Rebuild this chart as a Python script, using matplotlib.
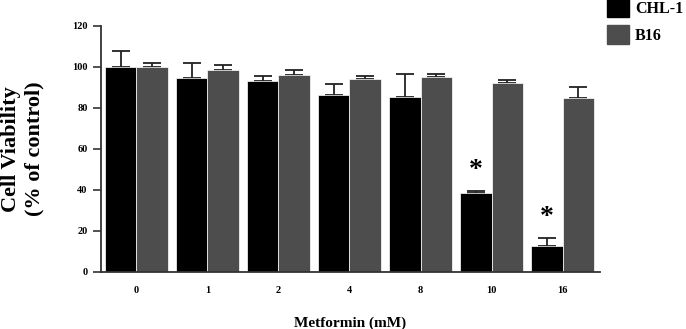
import numpy as np
import matplotlib
matplotlib.use("Agg")
import matplotlib.pyplot as plt
from matplotlib.patches import Patch

doses = ["0", "1", "2", "4", "8", "10", "16"]
chl1 = [100.0, 94.5, 93.0, 86.5, 85.5, 38.6, 12.7]
chl1_err = [7.6, 7.5, 2.8, 5.0, 11.3, 0.6, 4.0]
b16 = [100.0, 98.5, 96.0, 94.3, 95.3, 92.2, 84.7]
b16_err = [2.0, 2.5, 2.5, 1.5, 1.5, 1.6, 5.7]
star_groups = [5, 6]
star_values = [49.5, 26.5]

plt.rcParams["font.family"] = ["Liberation Serif", "DejaVu Serif"]
plt.rcParams["font.weight"] = "bold"

fig = plt.figure(figsize=(6.86, 3.29), dpi=100)
ax = fig.add_axes([0.147, 0.174, 0.728, 0.747])

x = np.arange(len(doses))
w = 0.44
ax.bar(x - w / 2, chl1, w, color="black", edgecolor="white", linewidth=0.5, zorder=2)
ax.bar(x + w / 2, b16, w, color="#4d4d4d", edgecolor="white", linewidth=0.5, zorder=2)
ax.errorbar(x - w / 2, chl1, yerr=[np.zeros(len(chl1)), chl1_err], fmt="none",
            ecolor="#222222", elinewidth=1.3, capsize=6.5, capthick=1.3, zorder=1)
ax.errorbar(x + w / 2, b16, yerr=[np.zeros(len(b16)), b16_err], fmt="none",
            ecolor="#222222", elinewidth=1.3, capsize=6.5, capthick=1.3, zorder=1)

for g, v in zip(star_groups, star_values):
    ax.text(g - w / 2, v, "*", ha="center", va="center", fontsize=20, fontweight="bold")

ax.set_xlim(-0.5, 6.53)
ax.set_ylim(0, 120)
ax.set_yticks(np.arange(0, 121, 20))
ax.set_xticks(x)
ax.set_xticklabels(doses)
ax.tick_params(axis="x", length=0, pad=10, labelsize=7.5)
ax.tick_params(axis="y", length=6, width=1.2, labelsize=7.5, color="#333333")
for s in ["top", "right"]:
    ax.spines[s].set_visible(False)
for s in ["left", "bottom"]:
    ax.spines[s].set_linewidth(1.3)
    ax.spines[s].set_color("#333333")

ax.set_ylabel("Cell Viability\n(% of control)", fontsize=16, fontweight="bold", labelpad=20)
ax.set_xlabel("Metformin (mM)", fontsize=11, fontweight="bold", labelpad=16)

handles = [Patch(color="black"), Patch(color="#4d4d4d")]
fig.legend(handles, ["CHL-1", "B16"], loc="upper left", bbox_to_anchor=(0.885, 1.005),
           frameon=False, fontsize=11.5, handlelength=1.4, handleheight=1.45,
           handletextpad=0.35, labelspacing=0.5, borderpad=0.0, borderaxespad=0.0)

fig.savefig("out.png", dpi=100)
